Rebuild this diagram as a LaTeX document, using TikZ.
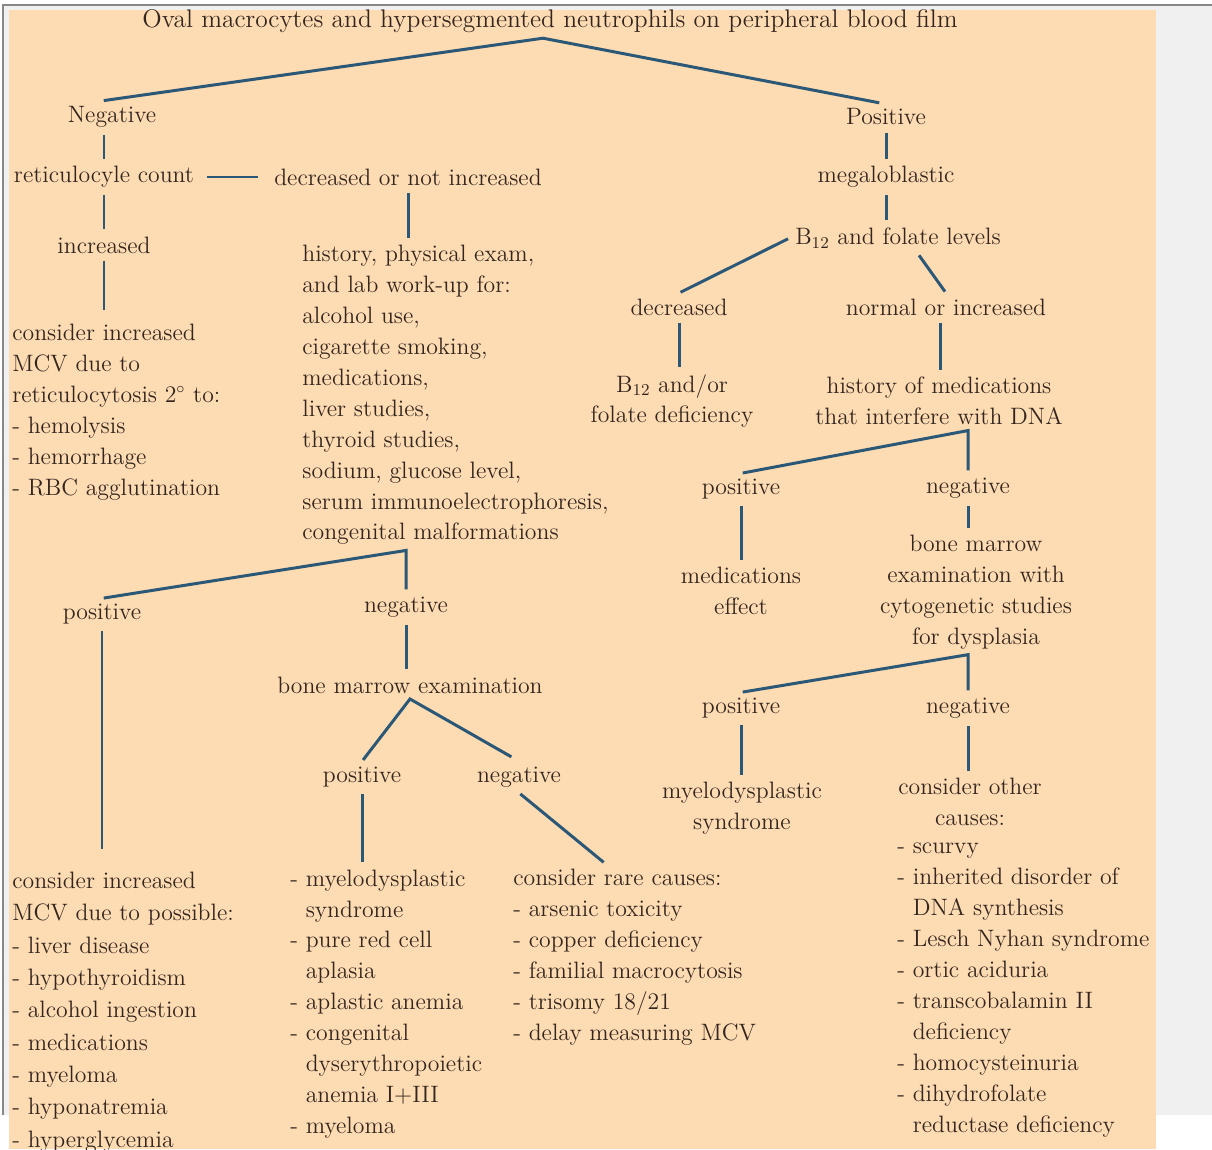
\documentclass[tikz,border=0pt]{standalone}
\usepackage{fontspec}
\usepackage{tikz}

\definecolor{peach}{RGB}{253,219,179}
\definecolor{linkblue}{RGB}{42,88,118}
\definecolor{inkbrown}{RGB}{52,38,30}
\definecolor{panelgrey}{RGB}{240,240,240}
\definecolor{framegrey}{RGB}{135,135,135}

\tikzset{lbl/.style={text=inkbrown, font=\fontsize{13.5}{17.6}\selectfont, inner sep=3pt},
blk/.style={lbl, align=center},
%list blocks start flush at their x coordinate
lst/.style={lbl, align=left, anchor=west, inner xsep=0pt},
link/.style={draw=linkblue, line width=1.7pt, shorten >=1pt, shorten <=1pt}}

% indent for wrapped list items
\newcommand{\cont}{\hphantom{-}\ }

\begin{document}
\begin{tikzpicture}[x=0.02cm,y=-0.02cm]

\useasboundingbox (0,0) rectangle (1212,1149);
\fill[white] (0,0) rectangle (1212,1149);
\fill[panelgrey] (4,6) rectangle (1212,1115);
\draw[framegrey, line width=0.8pt] (3,1115) -- (3,5) -- (1212,5);
\fill[peach] (9,10) rectangle (1156,1149);

\node[lbl, font=\fontsize{14.5}{17.6}\selectfont] (title) at (550,21) {Oval macrocytes and hypersegmented neutrophils on peripheral blood film};
\node[lbl] (neg) at (112,117) {Negative};
\node[lbl] (pos) at (886,117) {Positive};

% negative branch
\node[lbl] (retic) at (104,177) {reticulocyle count};
\node[lbl] (notinc) at (408,177) {decreased or not increased};
\node[lbl] (incr) at (104,245) {increased};
\node[lst] (retcause) at (12,412) {consider increased\\MCV due to\\reticulocytosis 2$^\circ$ to:\\- hemolysis\\- hemorrhage\\- RBC agglutination};
\node[lst] (workup) at (302,395) {history, physical exam,\\and lab work-up for:\\alcohol use,\\cigarette smoking,\\medications,\\liver studies,\\thyroid studies,\\sodium, glucose level,\\serum immunoelectrophoresis,\\congenital malformations};
\node[lbl] (wpos) at (102,614) {positive};
\node[lbl] (wneg) at (406,607) {negative};
\node[lst, font=\fontsize{13.5}{18.4}\selectfont] (poscause) at (12,1012) {consider increased\\MCV due to possible:\\- liver disease\\- hypothyroidism\\- alcohol ingestion\\- medications\\- myeloma\\- hyponatremia\\- hyperglycemia};
\node[lbl] (bme) at (410,685) {bone marrow examination};
\node[lbl] (bpos) at (362,777) {positive};
\node[lbl] (bneg) at (519,777) {negative};
\node[lst] (mdslist) at (290,1004) {- myelodysplastic\\\cont syndrome\\- pure red cell\\\cont aplasia\\- aplastic anemia\\- congenital\\\cont dyserythropoietic\\\cont anemia I+III\\- myeloma};
\node[lst] (rarelist) at (513,957) {consider rare causes:\\- arsenic toxicity\\- copper deficiency\\- familial macrocytosis\\- trisomy 18/21\\- delay measuring MCV};

% positive branch
\node[lbl] (mega) at (886,177) {megaloblastic};
\node[lbl] (levels) at (898,238) {B\textsubscript{12} and folate levels};
\node[lbl] (low) at (679,307) {decreased};
\node[lbl] (normal) at (946,307) {normal or increased};
\node[blk] (defic) at (672,401) {B\textsubscript{12} and/or\\folate deficiency};
\node[blk] (medhist) at (939,401) {history of medications\\that interfere with DNA};
\node[lbl] (mpos) at (741,489) {positive};
\node[lbl] (mneg) at (968,488) {negative};
\node[blk] (medeff) at (741,591) {medications\\effect};
\node[blk] (bmecyto) at (976,592) {bone marrow\\examination with\\cytogenetic studies\\for dysplasia};
\node[lbl] (cpos) at (741,708) {positive};
\node[lbl] (cneg) at (968,708) {negative};
\node[blk] (mds) at (742,808) {myelodysplastic\\syndrome};
\node[blk] (other) at (970,802) {consider other\\causes:};
\node[lst] (otherlist) at (897,990) {- scurvy\\- inherited disorder of\\\cont DNA synthesis\\- Lesch Nyhan syndrome\\- ortic aciduria\\- transcobalamin II\\\cont deficiency\\- homocysteinuria\\- dihydrofolate\\\cont reductase deficiency};

\draw[link] ([xshift=-0.2cm]neg.north) -- ([xshift=-0.14cm]title.south) -- ([xshift=-0.1cm]pos.north);

\draw[link] (retic.north |- neg.south) -- (retic.north);
\draw[link, shorten >=6pt, shorten <=4pt] (retic.east) -- (notinc.west);
\draw[link] (retic.south) -- (retic.south |- incr.north);
\draw[link, shorten >=5pt] (incr.south) -- (incr.south |- retcause.north);
\draw[link] (notinc.south) -- (notinc.south |- workup.north);
\draw[link] (wpos.north) -- (workup.south -| wneg.north) -- (wneg.north);
\draw[link, shorten >=10pt] (wpos.south) -- (wpos.south |- poscause.north);
\draw[link] (wneg.south) -- (wneg.south |- bme.north);
\draw[link, shorten >=5pt] (bpos.north) -- (bme.south) -- (bneg.north);
\draw[link] (bpos.south) -- (bpos.south |- mdslist.north);
\draw[link] (bneg.south) -- ([xshift=1.84cm]rarelist.north west);

\draw[link] (pos.south) -- (pos.south |- mega.north);
\draw[link] (mega.south) -- (mega.south |- levels.north);
\draw[link] (levels.west) -- (low.north);
\draw[link] ([xshift=0.4cm]levels.south) -- (normal.north);
\draw[link] (low.south) -- (low.south |- defic.north);
\draw[link] ([xshift=-0.12cm]normal.south) -- ([xshift=-0.12cm]normal.south |- medhist.north);
\draw[link] (mpos.north) -- (medhist.south -| mneg.north) -- (mneg.north);
\draw[link] (mpos.south) -- (mpos.south |- medeff.north);
\draw[link] (mneg.south) -- (mneg.south |- bmecyto.north);
\draw[link] (cpos.north) -- (bmecyto.south -| cneg.north) -- (cneg.north);
\draw[link] (cpos.south) -- (cpos.south |- mds.north);
\draw[link] (cneg.south) -- (cneg.south |- other.north);

\end{tikzpicture}
\end{document}
